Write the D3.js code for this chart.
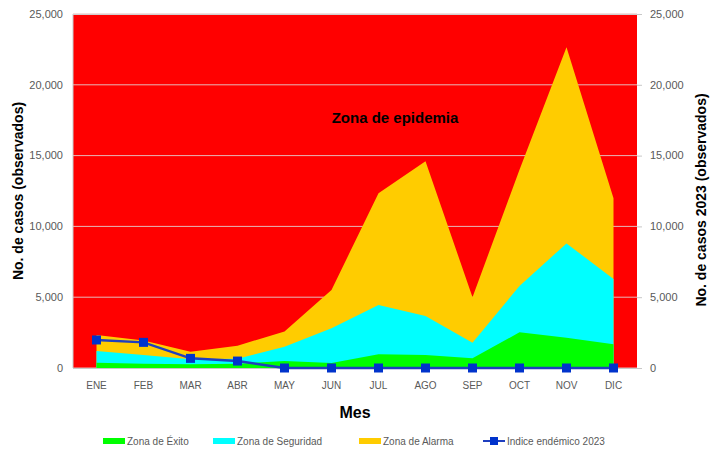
<!DOCTYPE html>
<html>
<head>
<meta charset="utf-8">
<script src="https://cdn.jsdelivr.net/npm/d3@7"></script>
<style>
  html, body { margin: 0; padding: 0; background: #fff; }
  svg { display: block; }
</style>
</head>
<body>
<svg id="chart" width="714" height="457"></svg>
<script>
const months = ["ENE","FEB","MAR","ABR","MAY","JUN","JUL","AGO","SEP","OCT","NOV","DIC"];
const zonaExito = [370, 300, 260, 300, 500, 350, 970, 920, 680, 2520, 2140, 1670];
const zonaSeguridad = [1200, 920, 610, 660, 1500, 2800, 4450, 3670, 1790, 5790, 8800, 6290];
const zonaAlarma = [2330, 1950, 1150, 1580, 2570, 5510, 12340, 14600, 5000, 14000, 22650, 11980];
const indice2023 = [1980, 1810, 680, 490, 0, 0, 0, 0, 0, 0, 0, 0];
const yTicks = [0, 5000, 10000, 15000, 20000, 25000];
const legendLabels = ["Zona de Éxito", "Zona de Seguridad", "Zona de Alarma", "Indice endémico 2023"];

const svg = d3.select("#chart");
const m = { left: 73, right: 637, top: 14, bottom: 368 };
const font = "'Liberation Sans', Arial, sans-serif";

const x = d3.scaleBand().domain(months).range([m.left, m.right]);
const xc = d => x(d) + x.bandwidth() / 2;
const y = d3.scaleLinear().domain([0, 25000]).range([m.bottom, m.top]);
const fmt = d3.format(",");

// epidemic zone background
svg.append("rect")
  .attr("x", m.left).attr("y", m.top)
  .attr("width", m.right - m.left).attr("height", m.bottom - m.top)
  .attr("fill", "#ff0000");

// gridlines
svg.append("g").selectAll("line").data(yTicks).join("line")
  .attr("x1", m.left).attr("x2", m.right)
  .attr("y1", d => y(d)).attr("y2", d => y(d))
  .attr("stroke", "#e6b8b8").attr("stroke-width", 1);

const area = vals => d3.area()
  .x((d, i) => xc(months[i]))
  .y0(y(0))
  .y1(d => y(d))(vals);

svg.append("path").attr("d", area(zonaAlarma)).attr("fill", "#ffcc00");
svg.append("path").attr("d", area(zonaSeguridad)).attr("fill", "#00ffff");
svg.append("path").attr("d", area(zonaExito)).attr("fill", "#00ff00");

// borders
svg.append("line").attr("x1", m.left).attr("x2", m.left).attr("y1", m.top).attr("y2", m.bottom)
  .attr("stroke", "#c8c8c8").attr("stroke-width", 1);
svg.append("line").attr("x1", m.left).attr("x2", m.right).attr("y1", m.top + 0.5).attr("y2", m.top + 0.5)
  .attr("stroke", "#d0d0d0").attr("stroke-width", 1);
svg.append("line").attr("x1", m.left).attr("x2", m.right + 4).attr("y1", m.bottom + 0.5).attr("y2", m.bottom + 0.5)
  .attr("stroke", "#c8c8c8").attr("stroke-width", 1);

// left axis labels
svg.append("g").selectAll("text").data(yTicks).join("text")
  .attr("x", 63).attr("y", d => y(d)).attr("dy", "0.35em")
  .attr("text-anchor", "end").attr("font-family", font).attr("font-size", 11)
  .attr("fill", "#595959").text(d => fmt(d));

// right axis ticks and labels
svg.append("g").selectAll("line").data(yTicks).join("line")
  .attr("x1", m.right).attr("x2", m.right + 5)
  .attr("y1", d => y(d) + 0.5).attr("y2", d => y(d) + 0.5)
  .attr("stroke", "#c8c8c8");
svg.append("g").selectAll("text").data(yTicks).join("text")
  .attr("x", 650).attr("y", d => y(d)).attr("dy", "0.35em")
  .attr("text-anchor", "start").attr("font-family", font).attr("font-size", 11)
  .attr("fill", "#595959").text(d => fmt(d));

// x axis labels
svg.append("g").selectAll("text").data(months).join("text")
  .attr("x", d => xc(d)).attr("y", 385).attr("dy", "0.35em")
  .attr("text-anchor", "middle").attr("font-family", font).attr("font-size", 10)
  .attr("fill", "#595959").text(d => d);

// endemic index line
const line = d3.line().x((d, i) => xc(months[i])).y(d => y(d));
svg.append("path").attr("d", line(indice2023))
  .attr("fill", "none").attr("stroke", "#1f3fbf").attr("stroke-width", 2.5);
svg.append("g").selectAll("rect").data(indice2023).join("rect")
  .attr("x", (d, i) => xc(months[i]) - 4.5).attr("y", d => y(d) - 4.5)
  .attr("width", 9).attr("height", 9).attr("fill", "#0033cc");

// titles
svg.append("text").attr("x", 395).attr("y", 118).attr("dy", "0.35em")
  .attr("text-anchor", "middle").attr("font-family", font).attr("font-size", 15)
  .attr("font-weight", "bold").attr("fill", "#000").text("Zona de epidemia");
svg.append("text").attr("x", 355).attr("y", 412).attr("dy", "0.35em")
  .attr("text-anchor", "middle").attr("font-family", font).attr("font-size", 16)
  .attr("font-weight", "bold").attr("fill", "#000").text("Mes");
svg.append("text").attr("transform", "translate(18,191) rotate(-90)").attr("dy", "0.35em")
  .attr("text-anchor", "middle").attr("font-family", font).attr("font-size", 14)
  .attr("font-weight", "bold").attr("fill", "#000").text("No. de casos (observados)");
svg.append("text").attr("transform", "translate(701,200) rotate(-90)").attr("dy", "0.35em")
  .attr("text-anchor", "middle").attr("font-family", font).attr("font-size", 14)
  .attr("font-weight", "bold").attr("fill", "#000").text("No. de casos 2023 (observados)");

// legend
const legendX = [103, 213, 359, 483];
const legendColors = ["#00ff00", "#00ffff", "#ffcc00", null];
const lg = svg.append("g");
legendLabels.forEach((lab, i) => {
  const g = lg.append("g").attr("transform", `translate(${legendX[i]},441)`);
  if (legendColors[i]) {
    g.append("rect").attr("x", 0).attr("y", -3).attr("width", 22).attr("height", 6).attr("fill", legendColors[i]);
  } else {
    g.append("line").attr("x1", 0).attr("x2", 22).attr("y1", 0).attr("y2", 0)
      .attr("stroke", "#1f3fbf").attr("stroke-width", 2);
    g.append("rect").attr("x", 7).attr("y", -4).attr("width", 8).attr("height", 8).attr("fill", "#0033cc");
  }
  g.append("text").attr("x", 24).attr("y", 0).attr("dy", "0.35em")
    .attr("font-family", font).attr("font-size", 10).attr("fill", "#595959").text(lab);
});
</script>
</body>
</html>
